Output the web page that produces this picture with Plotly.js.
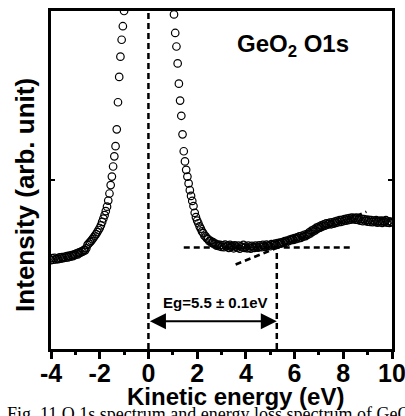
<!DOCTYPE html>
<html>
<head>
<meta charset="utf-8">
<script src="https://cdn.plot.ly/plotly-3.0.1.min.js"></script>
<style>html,body{margin:0;padding:0;background:#fff;overflow:hidden;}#chart{width:405px;height:416px;}</style>
</head>
<body>
<div id="chart"></div>
<script>
// Left branch (below the O1s elastic peak), kinetic energy in eV
const leftEnergy = [
  -4.00,-3.95,-3.90,-3.85,-3.80,-3.75,-3.70,-3.65,-3.60,-3.55,
  -3.50,-3.45,-3.40,-3.35,-3.30,-3.25,-3.20,-3.15,-3.10,-3.05,
  -3.00,-2.95,-2.90,-2.85,-2.80,-2.75,-2.70,-2.65,-2.60,-2.55,
  -2.50,-2.45,-2.40,-2.35,-2.30,-2.25,-2.20,-2.15,-2.10,-2.05,
  -2.00,-1.95,-1.90,-1.85,-1.80,-1.75,-1.70,-1.65,-1.60,-1.55,
  -1.50,-1.45,-1.40,-1.35,-1.30,-1.25,-1.20,-1.15,-1.10,-1.05,
  -1.00
];
const leftIntensity = [
  26.3,26.9,26.4,27.0,26.5,26.8,26.6,27.1,26.7,27.2,
  26.9,27.3,27.0,27.5,27.1,27.6,27.3,27.8,27.5,28.0,
  27.8,28.3,28.0,28.6,28.4,28.9,28.8,29.3,29.2,29.8,
  30.8,31.2,31.6,32.0,32.5,33.0,33.5,34.0,34.6,35.2,
  35.8,36.6,37.6,38.6,39.6,40.8,42.1,43.9,46.0,48.5,
  51.0,54.0,57.0,60.0,65.0,73.0,80.5,86.5,91.5,95.5,
  100.0
];
// Right branch (energy-loss side)
const rightEnergy = [
  1.00,1.05,1.10,1.15,1.20,1.25,1.30,1.35,1.40,1.45,
  1.50,1.55,1.60,1.65,1.70,1.75,1.80,1.85,1.90,1.95,
  2.00,2.05,2.10,2.15,2.20,2.25,2.30,2.35,2.40,2.45,
  2.50,2.55,2.60,2.65,2.70,2.75,2.80,2.85,2.90,2.95,
  3.00,3.05,3.10,3.15,3.20,3.25,3.30,3.35,3.40,3.45,
  3.50,3.55,3.60,3.65,3.70,3.75,3.80,3.85,3.90,3.95,
  4.00,4.05,4.10,4.15,4.20,4.25,4.30,4.35,4.40,4.45,
  4.50,4.55,4.60,4.65,4.70,4.75,4.80,4.85,4.90,4.95,
  5.00,5.05,5.10,5.15,5.20,5.25,5.30,5.35,5.40,5.45,
  5.50,5.55,5.60,5.65,5.70,5.75,5.80,5.85,5.90,5.95,
  6.00,6.05,6.10,6.15,6.20,6.25,6.30,6.35,6.40,6.45,
  6.50,6.55,6.60,6.65,6.70,6.75,6.80,6.85,6.90,6.95,
  7.00,7.05,7.10,7.15,7.20,7.25,7.30,7.35,7.40,7.45,
  7.50,7.55,7.60,7.65,7.70,7.75,7.80,7.85,7.90,7.95,
  8.00,8.05,8.10,8.15,8.20,8.25,8.30,8.35,8.40,8.45,
  8.50,8.55,8.60,8.65,8.70,8.75,8.80,8.85,8.90,8.95,
  9.00,9.05,9.10,9.15,9.20,9.25,9.30,9.35,9.40,9.45,
  9.50,9.55,9.60,9.65,9.70,9.75,9.80,9.85,9.90,9.95,
  10.00
];
const rightIntensity = [
  104.0,99.0,93.5,89.5,84.5,78.5,73.5,69.0,63.5,58.5,
  55.5,53.0,51.0,49.0,47.0,45.3,43.8,42.3,40.3,39.0,
  38.0,37.2,36.3,35.6,34.8,34.3,33.5,33.3,32.7,32.5,
  31.9,32.0,31.4,31.6,31.0,31.2,30.6,30.9,30.4,30.8,
  30.2,30.7,30.1,30.9,30.3,30.6,29.9,30.8,30.2,30.5,
  29.8,30.7,30.3,30.0,30.6,29.7,30.4,30.1,30.8,29.9,
  30.3,29.8,30.6,30.0,29.7,30.5,30.1,29.9,30.6,30.2,
  30.0,30.7,30.3,30.1,30.8,30.4,30.2,30.9,30.5,30.7,
  30.4,31.0,30.7,30.9,31.2,30.8,31.3,31.1,31.5,31.2,
  31.6,31.4,31.9,31.5,32.1,31.9,32.4,32.2,32.6,32.3,
  32.8,32.5,33.0,32.7,33.3,32.9,33.5,33.2,33.8,33.4,
  34.0,33.8,34.5,34.2,35.0,34.7,35.4,35.1,35.9,35.6,
  36.2,35.9,36.6,36.3,36.9,36.5,37.2,36.8,37.0,37.4,
  36.9,37.5,37.1,37.7,37.3,37.9,37.5,38.1,37.6,38.2,
  37.8,38.4,38.0,38.6,38.1,38.7,38.3,38.9,38.4,38.8,
  38.3,38.9,38.2,38.6,38.0,38.5,37.8,38.4,37.9,38.3,
  37.7,38.2,37.6,38.1,37.5,38.0,37.6,38.1,37.4,37.9,
  37.5,38.0,37.3,37.9,37.6,38.1,37.4,37.8,37.3,37.7,
  37.5
];
// Guide lines for band-gap construction
const zeroLineX = [0, 0], zeroLineY = [0, 100];
const baselineX = [1.45, 8.42], baselineY = [30.0, 30.0];
const slopeX = [3.58, 8.95], slopeY = [25.0, 40.6];
const gapLineX = [5.27, 5.27], gapLineY = [0, 30.0];
const gapArrowX = [0, 5.27], gapArrowY = 8.2;
const xTicks = [-4, -2, 0, 2, 4, 6, 8, 10];

const FONT = 'Liberation Sans, Arial, sans-serif';
const dashStyle = {color: '#000', width: 2.5, dash: '6px,4px'};
const markerStyle = {symbol: 'circle-open', size: 7.5, color: '#000', line: {width: 1.2, color: '#000'}};

const traces = [
  {x: zeroLineX, y: zeroLineY, mode: 'lines', line: dashStyle},
  {x: baselineX, y: baselineY, mode: 'lines', line: dashStyle},
  {x: slopeX, y: slopeY, mode: 'lines', line: dashStyle},
  {x: gapLineX, y: gapLineY, mode: 'lines', line: dashStyle},
  {x: leftEnergy, y: leftIntensity, mode: 'markers', marker: markerStyle},
  {x: rightEnergy, y: rightIntensity, mode: 'markers', marker: markerStyle}
];

const layout = {
  width: 405, height: 416,
  margin: {l: 51, r: 13, t: 11, b: 67, autoexpand: false},
  paper_bgcolor: '#fff', plot_bgcolor: '#fff',
  showlegend: false,
  font: {family: FONT, color: '#000'},
  xaxis: {
    range: [-4, 10], tickmode: 'array', tickvals: xTicks, ticktext: xTicks.map(v => '<b>' + v + '</b>'),
    ticks: 'outside', ticklen: 7, tickwidth: 3, tickcolor: '#000',
    minor: {dtick: 1, tick0: -4, ticks: 'outside', ticklen: 3, tickwidth: 3, tickcolor: '#000'},
    showline: true, linewidth: 3, linecolor: '#000', mirror: true,
    showgrid: false, zeroline: false, automargin: false,
    ticklabeloverflow: 'allow', ticklabelstandoff: -7,
    tickfont: {family: FONT, size: 25, color: '#000'}
  },
  yaxis: {
    range: [0, 100], tickmode: 'array', tickvals: [50], showticklabels: false,
    ticks: 'inside', ticklen: 4, tickwidth: 2, tickcolor: '#000',
    showline: true, linewidth: 3, linecolor: '#000', mirror: 'ticks',
    showgrid: false, zeroline: false, automargin: false
  },
  annotations: [
    {xref: 'x', yref: 'y', x: 5.94, y: 89.7, text: '<b>GeO<sub>2</sub> O1s</b>', showarrow: false,
     font: {family: FONT, size: 24}},
    {xref: 'x', yref: 'y', x: 2.76, y: 13.8, text: '<b>Eg=5.5 ± 0.1eV</b>', showarrow: false,
     font: {family: FONT, size: 15}},
    {xref: 'x', yref: 'y', axref: 'x', ayref: 'y', x: gapArrowX[1], y: gapArrowY, ax: gapArrowX[0], ay: gapArrowY,
     text: '', showarrow: true, arrowside: 'end+start', arrowhead: 2, startarrowhead: 2,
     arrowsize: 1.6, startarrowsize: 1.6, arrowwidth: 2, arrowcolor: '#000', standoff: 0, startstandoff: 0},
    {xref: 'paper', yref: 'paper', x: -0.0762, y: 0.456, text: '<b>Intensity (arb. unit)</b>', textangle: -90,
     showarrow: false, xanchor: 'center', yanchor: 'middle', font: {family: FONT, size: 26}},
    {xref: 'paper', yref: 'paper', x: 0.5425, y: -0.142, text: '<b>Kinetic energy (eV)</b>',
     showarrow: false, xanchor: 'center', yanchor: 'middle', font: {family: FONT, size: 24}},
    {xref: 'paper', yref: 'paper', x: -0.135, y: -0.192, text: 'Fig. 11 O 1s spectrum and energy loss spectrum of GeO',
     showarrow: false, xanchor: 'left', yanchor: 'middle', font: {family: 'Liberation Serif, Times New Roman, serif', size: 18}}
  ]
};

Plotly.newPlot('chart', traces, layout, {staticPlot: true, displayModeBar: false});
</script>
</body>
</html>
